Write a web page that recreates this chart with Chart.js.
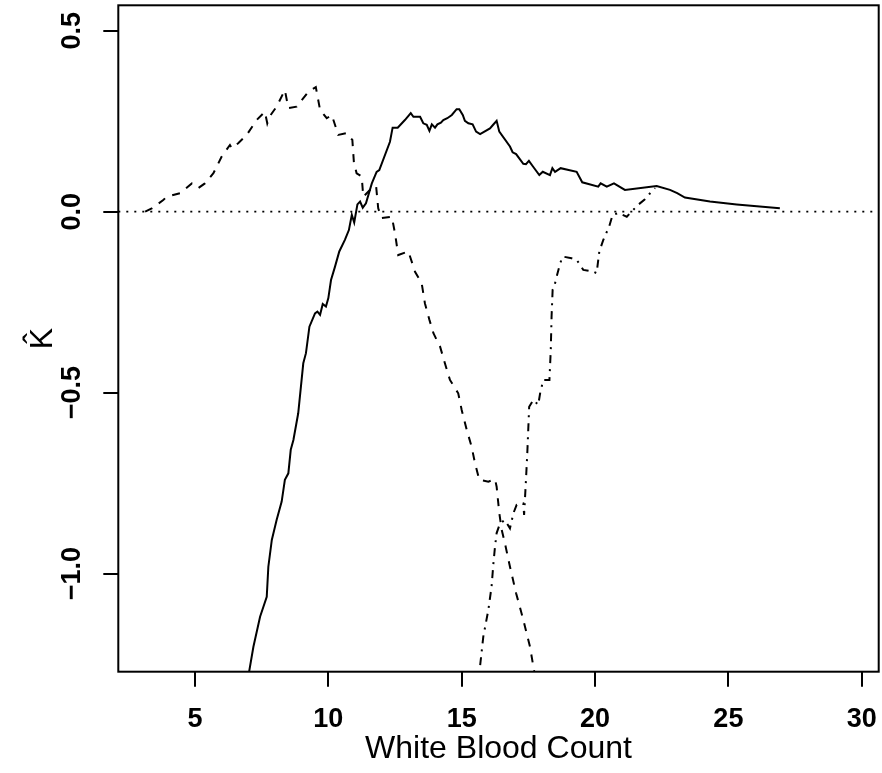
<!DOCTYPE html>
<html>
<head>
<meta charset="utf-8">
<script src="https://cdn.jsdelivr.net/npm/chart.js@4.4.1/dist/chart.umd.min.js"></script>
<style>
html,body{margin:0;padding:0;background:#fff;}
canvas{display:block;}
</style>
</head>
<body>
<canvas id="c" width="882" height="773"></canvas>
<script>
// ---------- data ----------
const xTicks = [5, 10, 15, 20, 25, 30];
const yTicks = [-1.0, -0.5, 0.0, 0.5];
const xLimits = [2.124, 30.636];
const yLimits = [-1.271, 0.570];
const xTitle = "White Blood Count";
const yTitle = "K\u0302";

// solid curve
const solidX = [7.02,7.19,7.44,7.69,7.75,7.88,8.06,8.25,8.37,8.50,8.59,8.69,8.87,9.06,9.16,9.29,9.50,9.59,9.69,9.79,9.91,10.00,10.10,10.25,10.41,10.62,10.77,10.88,10.97,11.09,11.19,11.29,11.41,11.63,11.81,11.91,12.31,12.41,12.60,12.87,13.09,13.19,13.44,13.56,13.69,13.79,13.88,14.00,14.09,14.22,14.31,14.46,14.63,14.81,14.91,15.04,15.12,15.25,15.41,15.54,15.69,16.06,16.18,16.31,16.41,16.81,16.91,17.04,17.31,17.41,17.52,17.68,17.91,18.04,18.31,18.40,18.50,18.71,19.31,19.52,20.12,20.21,20.44,20.71,21.12,22.31,22.81,23.08,23.37,24.31,25.31,26.93];
const solidY = [-1.275,-1.202,-1.119,-1.064,-0.981,-0.907,-0.852,-0.801,-0.741,-0.723,-0.658,-0.631,-0.557,-0.419,-0.391,-0.318,-0.281,-0.276,-0.285,-0.255,-0.262,-0.239,-0.189,-0.152,-0.110,-0.078,-0.051,-0.009,-0.030,0.020,0.028,0.011,0.023,0.078,0.110,0.115,0.193,0.232,0.232,0.253,0.272,0.262,0.262,0.244,0.240,0.223,0.241,0.232,0.241,0.246,0.253,0.258,0.267,0.283,0.283,0.267,0.251,0.244,0.241,0.221,0.214,0.230,0.240,0.251,0.221,0.180,0.164,0.159,0.132,0.131,0.140,0.124,0.101,0.110,0.101,0.120,0.110,0.120,0.110,0.081,0.069,0.078,0.069,0.078,0.060,0.071,0.060,0.051,0.039,0.028,0.020,0.009];

// dashed curve
const dashedX = [3.13,3.38,3.81,3.94,4.44,4.88,5.00,5.12,5.37,5.69,6.00,6.31,6.38,6.62,6.94,7.31,7.62,7.71,7.79,8.06,8.37,8.50,8.81,9.25,9.53,9.69,9.94,10.13,10.37,10.69,10.90,10.96,11.06,11.25,11.31,11.63,11.79,11.87,12.00,12.38,12.50,12.62,13.00,13.25,13.50,13.62,13.79,13.94,14.19,14.37,14.56,14.87,15.00,15.19,15.37,15.50,15.66,16.00,16.25,16.31,16.41,16.50,16.62,16.81,17.04,17.31,17.56,17.73];
const dashedY = [0.000,0.009,0.032,0.041,0.051,0.078,0.074,0.065,0.078,0.106,0.152,0.184,0.175,0.189,0.212,0.253,0.276,0.244,0.262,0.290,0.336,0.286,0.290,0.331,0.344,0.281,0.258,0.267,0.212,0.217,0.198,0.134,0.106,0.097,0.041,0.065,0.071,0.009,-0.018,-0.014,-0.060,-0.120,-0.110,-0.166,-0.198,-0.253,-0.299,-0.336,-0.373,-0.419,-0.465,-0.502,-0.548,-0.603,-0.649,-0.695,-0.741,-0.746,-0.739,-0.760,-0.833,-0.879,-0.916,-0.981,-1.054,-1.128,-1.202,-1.275];

// dot-dash curve
const dotdashX = [15.66,15.81,16.00,16.12,16.19,16.25,16.31,16.44,16.62,16.81,16.94,17.06,17.31,17.34,17.41,17.46,17.50,17.53,17.69,17.87,17.94,18.06,18.29,18.34,18.37,18.41,18.47,18.56,18.69,18.79,19.12,19.31,19.56,19.94,20.06,20.16,20.31,20.53,20.66,20.87,21.19,21.37,21.62,21.87,22.03,22.25];
const dotdashY = [-1.275,-1.174,-1.100,-1.036,-0.971,-0.925,-0.888,-0.861,-0.852,-0.875,-0.833,-0.810,-0.806,-0.838,-0.741,-0.667,-0.594,-0.539,-0.520,-0.534,-0.502,-0.465,-0.465,-0.382,-0.290,-0.216,-0.207,-0.180,-0.143,-0.124,-0.129,-0.133,-0.161,-0.166,-0.170,-0.110,-0.078,-0.041,-0.009,-0.004,-0.014,0.000,0.019,0.034,0.048,0.065];

// horizontal reference line at zero
const refY = 0;

// ---------- chart ----------
const pts = (xs, ys) => xs.map((x, i) => ({x: x, y: ys[i]}));
const FONT = "'Liberation Sans', Arial, Helvetica, sans-serif";
const fmt = v => (v < 0 ? "\u2212" : "") + Math.abs(v).toFixed(1);

const boxPlugin = {
  id: 'box',
  afterDatasetsDraw(chart) {
    const a = chart.chartArea, ctx = chart.ctx;
    ctx.save();
    ctx.strokeStyle = '#000';
    ctx.lineWidth = 2;
    ctx.strokeRect(a.left, a.top, a.right - a.left, a.bottom - a.top);
    ctx.restore();
  }
};

new Chart(document.getElementById('c'), {
  type: 'scatter',
  data: {
    datasets: [
      {data: pts(xLimits, [refY, refY]), showLine: true, borderColor: '#000', borderWidth: 1.6, borderDash: [2, 6], pointRadius: 0},
      {data: pts(solidX, solidY), showLine: true, borderColor: '#000', borderWidth: 2, pointRadius: 0, tension: 0},
      {data: pts(dashedX, dashedY), showLine: true, borderColor: '#000', borderWidth: 2, borderDash: [8, 8], pointRadius: 0, tension: 0},
      {data: pts(dotdashX, dotdashY), showLine: true, borderColor: '#000', borderWidth: 2, borderDash: [2, 6, 8, 6], pointRadius: 0, tension: 0}
    ]
  },
  options: {
    responsive: false,
    devicePixelRatio: 1,
    animation: false,
    events: [],
    layout: {padding: {top: 5.3, right: 3.3, left: 0, bottom: 0}},
    plugins: {legend: {display: false}, tooltip: {enabled: false}},
    scales: {
      x: {
        type: 'linear', position: 'bottom',
        min: xLimits[0], max: xLimits[1],
        afterBuildTicks: s => { s.ticks = xTicks.map(v => ({value: v})); },
        afterFit: s => { s.height = 101.3; s.paddingLeft = 0; s.paddingRight = 0; },
        grid: {display: true, drawOnChartArea: false, drawTicks: true, tickLength: 15, color: '#000', lineWidth: 2},
        border: {display: false},
        ticks: {autoSkip: false, maxRotation: 0, minRotation: 0, padding: 17, color: '#000',
                font: {family: FONT, size: 27, weight: 'bold'}, callback: v => String(v)},
        title: {display: true, text: xTitle, color: '#000', font: {family: FONT, size: 32}, padding: {top: 0, bottom: 4.8}}
      },
      y: {
        type: 'linear', position: 'left',
        min: yLimits[0], max: yLimits[1],
        afterBuildTicks: s => { s.ticks = yTicks.map(v => ({value: v})); },
        afterFit: s => { s.width = 118.3; s.paddingTop = 0; s.paddingBottom = 0; },
        grid: {display: true, drawOnChartArea: false, drawTicks: true, tickLength: 15, color: '#000', lineWidth: 2},
        border: {display: false},
        ticks: {autoSkip: false, minRotation: 90, maxRotation: 90, crossAlign: 'center', padding: 4.5, color: '#000',
                font: {family: FONT, size: 27, weight: 'bold'}, callback: v => fmt(v)},
        title: {display: true, text: yTitle, color: '#000', font: {family: FONT, size: 32}, padding: {top: 23.7, bottom: 0}}
      }
    }
  },
  plugins: [boxPlugin]
});
</script>
</body>
</html>
